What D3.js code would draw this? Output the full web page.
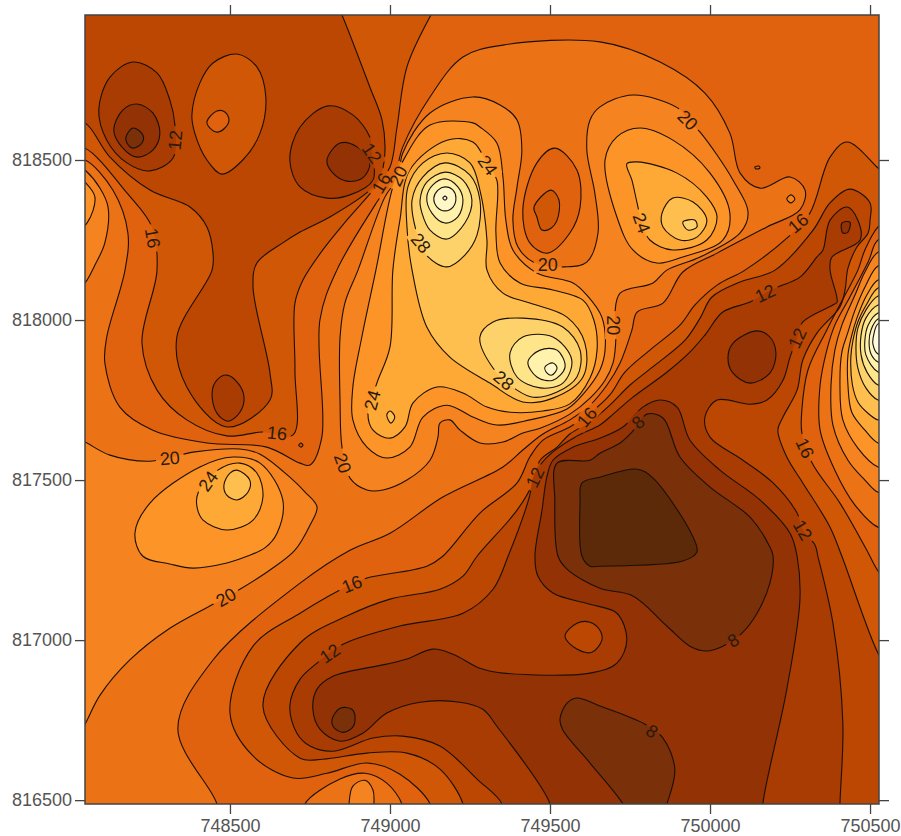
<!DOCTYPE html>
<html>
<head>
<meta charset="utf-8">
<title>Contour map</title>
<script src="https://cdnjs.cloudflare.com/ajax/libs/d3/7.8.5/d3.min.js"></script>
<style>
body { margin: 0; background: #fff; }
text { font-family: "Liberation Sans", Arial, sans-serif; }
</style>
</head>
<body>
<script>
// grid origin, all vertices below are metres east / north of it
var eastBase = 748000, northBase = 816000;
var eastExtent = [47, 2528], northExtent = [488, 2953];

var eastTicks = [748500, 749000, 749500, 750000, 750500];
var northTicks = [816500, 817000, 817500, 818000, 818500];

// band floor -> colour
var bandFloors = [4, 6, 8, 10, 12, 14, 16, 18, 20, 22, 24, 26, 28, 30, 32, 34, 36];
var bandColors = ["#5c2a08", "#7a3008", "#933204", "#a83c03", "#bb4702", "#cf5705", "#e0620e", "#ec7216",
  "#f5831f", "#fc9427", "#fea935", "#febf4e", "#fed26b", "#fee58a", "#fff2ac", "#fff7c8", "#fffbe0"];

// contour rings, high side
var high18Main = [[47,2500],[134,2406],[181,2272],[172,2156],[115,1947],[109,1866],[156,1728],[259,1656],[428,1616],[615,1603],[719,1553],[750,1547],[787,1634],[781,2000],[834,2156],[953,2359],[1015,2453],[1040,2541],[1125,2697],[1228,2822],[1353,2859],[1656,2869],[1844,2806],[1984,2709],[2062,2584],[2094,2459],[2156,2412],[2250,2447],[2297,2406],[2281,2344],[2178,2291],[2022,2209],[1915,2150],[1853,2053],[1772,2025],[1756,1969],[1719,1866],[1678,1797],[1625,1734],[1562,1688],[1478,1644],[1415,1594],[1353,1541],[1165,1447],[1000,1334],[875,1281],[719,1178],[447,938],[337,722],[459,488],[459,438],[0,438],[0,2500]];
var high18South = [[734,488],[844,566],[922,584],[990,553],[1037,488],[1037,438],[734,438]];
var high18Dot = [[2140,2478],[2153,2481],[2156,2475],[2144,2472]];
var high18East = [[2525,2250],[2494,2181],[2437,2072],[2390,1984],[2365,1906],[2344,1797],[2344,1656],[2390,1531],[2453,1422],[2525,1353],[2578,1353],[2578,2250]];
var high20West = [[47,1619],[125,1578],[250,1559],[391,1588],[531,1597],[594,1581],[687,1509],[734,1463],[772,1416],[750,1359],[703,1281],[625,1219],[531,1159],[447,1112],[312,1037],[187,938],[94,828],[47,737],[0,656],[0,1641]];
var high20NorthWest = [[47,2469],[94,2412],[119,2353],[109,2241],[78,2172],[47,2116],[0,2078],[0,2500]];
var high20South = [[872,488],[884,544],[922,562],[947,531],[950,488],[950,438],[872,438]];
var high20Spot = [[2240,2378],[2253,2391],[2265,2378],[2253,2366]];
var high20Center = [[900,2156],[859,2053],[844,1947],[844,1741],[850,1603],[875,1506],[928,1469],[978,1469],[1053,1500],[1125,1562],[1150,1634],[1156,1678],[1187,1688],[1219,1656],[1281,1616],[1353,1619],[1415,1647],[1469,1662],[1562,1706],[1625,1756],[1672,1812],[1697,1866],[1706,1947],[1703,2022],[1719,2084],[1822,2116],[1865,2156],[1969,2197],[2094,2272],[2119,2334],[2072,2437],[1969,2587],[1931,2625],[1900,2662],[1759,2703],[1656,2666],[1625,2625],[1615,2531],[1640,2397],[1650,2272],[1615,2181],[1547,2166],[1453,2178],[1400,2228],[1384,2312],[1397,2416],[1412,2531],[1397,2625],[1344,2672],[1259,2697],[1125,2647],[1040,2522],[1025,2447],[984,2384]];
var high20East = [[2525,2212],[2484,2150],[2453,2078],[2412,1984],[2390,1906],[2378,1797],[2384,1672],[2431,1562],[2484,1500],[2525,1462],[2578,1462],[2578,2212]];
var high22Center = [[956,2156],[912,1947],[884,1791],[884,1688],[928,1603],[990,1569],[1062,1603],[1103,1697],[1178,1734],[1259,1697],[1334,1672],[1437,1688],[1553,1722],[1609,1775],[1656,1844],[1672,1906],[1662,2009],[1615,2078],[1572,2116],[1459,2147],[1384,2219],[1362,2312],[1353,2447],[1334,2553],[1281,2603],[1259,2616],[1125,2609],[1047,2509],[1009,2416]];
var high22NorthEast = [[1672,2500],[1709,2572],[1781,2600],[1884,2562],[2000,2459],[2062,2334],[2040,2250],[1915,2197],[1834,2178],[1759,2219],[1709,2322]];
var high22NorthWest = [[47,2431],[78,2384],[53,2303],[0,2266],[0,2469]];
var high22SouthWest = [[203,1334],[250,1428],[406,1541],[509,1572],[594,1553],[665,1438],[647,1334],[609,1288],[553,1262],[490,1241],[384,1225],[312,1238],[228,1262]];
var high22East = [[2525,2169],[2487,2109],[2453,2031],[2431,1962],[2412,1900],[2406,1797],[2415,1688],[2462,1600],[2525,1541],[2578,1541],[2578,2169]];
var high24SouthWest = [[400,1459],[397,1416],[416,1375],[490,1344],[572,1375],[603,1447],[584,1522],[531,1553],[462,1531]];
var high24Center = [[1009,2156],[1000,1916],[959,1803],[931,1709],[947,1656],[1000,1631],[1047,1666],[1072,1741],[1147,1791],[1228,1772],[1303,1728],[1375,1712],[1478,1716],[1562,1738],[1625,1819],[1647,1906],[1637,2000],[1603,2062],[1509,2094],[1406,2116],[1344,2178],[1331,2272],[1334,2437],[1306,2484],[1259,2556],[1178,2562],[1062,2469],[1031,2312]];
var high24NorthEast = [[1740,2488],[1772,2494],[1897,2459],[1990,2384],[2022,2322],[1990,2250],[1884,2219],[1812,2250],[1787,2303],[1772,2366],[1756,2437]];
var high24East = [[2525,2125],[2490,2078],[2459,2006],[2443,1953],[2431,1891],[2431,1797],[2443,1712],[2484,1656],[2525,1616],[2578,1616],[2578,2125]];
var high26SouthWest = [[522,1531],[562,1500],[556,1462],[522,1438],[490,1453],[481,1484],[500,1522]];
var high26Center = [[1069,2156],[1115,1978],[1187,1884],[1312,1803],[1415,1744],[1509,1756],[1603,1822],[1609,1928],[1553,2009],[1437,2053],[1353,2084],[1303,2156],[1303,2250],[1281,2406],[1250,2491],[1178,2522],[1103,2491],[1056,2416],[1053,2291]];
var high26Spot = [[990,1703],[1000,1716],[1015,1697],[1003,1678]];
var high26NorthEast = [[1850,2334],[1884,2381],[1947,2369],[1990,2312],[1959,2259],[1906,2250],[1853,2291]];
var high26East = [[2525,2100],[2490,2050],[2462,1994],[2447,1938],[2440,1884],[2445,1797],[2462,1744],[2490,1712],[2525,1688],[2578,1688],[2578,2100]];
var high28NorthEast = [[1915,2306],[1953,2312],[1959,2291],[1931,2281]];
var high28Upper = [[1081,2281],[1069,2375],[1103,2447],[1172,2491],[1250,2453],[1281,2375],[1272,2266],[1234,2203],[1178,2166],[1119,2197],[1097,2241]];
var high28Lower = [[1322,1850],[1281,1947],[1322,1994],[1415,2006],[1540,1978],[1594,1906],[1584,1822],[1522,1775],[1447,1759],[1397,1781]];
var high28East = [[2525,2075],[2487,2031],[2462,1975],[2456,1912],[2462,1850],[2487,1788],[2525,1750],[2578,1750],[2578,2075]];
var high30Upper = [[1094,2375],[1115,2431],[1172,2462],[1228,2437],[1256,2375],[1234,2303],[1178,2253],[1125,2281],[1100,2334]];
var high30Lower = [[1375,1897],[1415,1947],[1509,1947],[1568,1875],[1540,1803],[1469,1788],[1397,1822]];
var high30East = [[2525,2047],[2487,2006],[2472,1953],[2472,1891],[2490,1838],[2525,1797],[2578,1797],[2578,2047]];
var high32Upper = [[1115,2384],[1134,2422],[1172,2441],[1212,2416],[1228,2375],[1212,2322],[1172,2303],[1131,2334]];
var high32Lower = [[1431,1869],[1469,1906],[1522,1906],[1547,1853],[1509,1812],[1459,1822]];
var high32East = [[2525,2022],[2494,1984],[2484,1938],[2487,1891],[2525,1838],[2578,1838],[2578,2022]];
var high34Upper = [[1137,2381],[1150,2406],[1172,2416],[1197,2406],[1206,2381],[1197,2353],[1172,2341],[1147,2353]];
var high34Lower = [[1484,1853],[1509,1866],[1522,1850],[1506,1828],[1491,1834]];
var high34East = [[2525,2003],[2503,1969],[2497,1931],[2503,1894],[2525,1869],[2578,1869],[2578,2003]];
var high36Upper = [[1165,2381],[1172,2387],[1178,2381],[1172,2375]];
var high36East = [[2525,1988],[2512,1956],[2509,1925],[2525,1894],[2578,1894],[2578,1988]];

// contour rings, low side
var low18Hole = [[1415,2344],[1459,2491],[1515,2537],[1584,2469],[1594,2353],[1562,2272],[1491,2209],[1437,2241]];
var low16Hole = [[1450,2353],[1503,2406],[1528,2375],[1522,2312],[1503,2287],[1475,2281],[1459,2322]];
var low16North = [[47,2537],[178,2397],[256,2291],[272,2156],[225,1928],[272,1781],[365,1688],[490,1638],[600,1650],[697,1641],[703,1844],[703,2053],[728,2125],[790,2219],[865,2312],[947,2406],[1000,2478],[1022,2603],[1053,2791],[1128,2953],[1156,3000],[0,3000],[0,2537]];
var low16Dot = [[715,1609],[722,1616],[728,1609],[722,1603]];
var low16South = [[1125,488],[1031,581],[928,616],[803,584],[697,569],[572,638],[500,772],[572,981],[719,1084],[881,1175],[928,1194],[1115,1231],[1165,1262],[1281,1397],[1397,1491],[1437,1572],[1478,1625],[1562,1666],[1625,1709],[1687,1766],[1734,1837],[1812,1906],[1906,1984],[1953,2047],[2022,2109],[2109,2156],[2240,2256],[2312,2334],[2375,2509],[2428,2556],[2525,2475],[2578,2422],[2578,2328],[2525,2291],[2484,2219],[2462,2156],[2422,2078],[2365,1969],[2306,1844],[2287,1719],[2287,1647],[2319,1553],[2406,1428],[2490,1281],[2525,1216],[2578,1156],[2578,438],[1125,438]];
var low14North = [[47,2616],[125,2509],[250,2406],[375,2353],[428,2291],[447,2209],[444,2156],[334,1947],[365,1791],[490,1666],[625,1750],[625,1834],[572,2103],[584,2178],[665,2241],[719,2275],[812,2322],[937,2406],[969,2447],[984,2522],[975,2625],[937,2728],[850,2953],[828,3000],[0,3000],[0,2616]];
var high14Blob = [[381,2641],[406,2741],[447,2803],[522,2831],[584,2791],[612,2697],[594,2584],[540,2500],[475,2456],[428,2500],[390,2584]];
var high16Blob = [[428,2619],[459,2653],[484,2650],[497,2625],[484,2600],[459,2587],[437,2600]];
var low12NorthWest = [[90,2656],[125,2759],[197,2806],[272,2772],[312,2688],[328,2609],[322,2506],[250,2466],[178,2491],[115,2562]];
var low10NorthWest = [[137,2594],[165,2656],[209,2675],[259,2647],[281,2584],[259,2531],[209,2509],[162,2541]];
var low8NorthWest = [[175,2572],[197,2600],[228,2578],[225,2553],[197,2537],[178,2553]];
var low12Mid = [[687,2500],[719,2603],[806,2669],[884,2641],[937,2572],[944,2525],[947,2437],[875,2391],[803,2381],[719,2416]];
var low10Mid = [[803,2500],[844,2553],[897,2541],[937,2491],[915,2444],[865,2434],[819,2462]];
var low12Tongue = [[444,1772],[459,1812],[490,1828],[525,1803],[544,1759],[531,1712],[494,1684],[459,1709]];
var low14South = [[1228,488],[1156,597],[1053,647],[928,647],[790,628],[719,631],[603,794],[719,991],[865,1075],[1000,1128],[1156,1159],[1228,1200],[1272,1262],[1397,1406],[1447,1491],[1469,1562],[1522,1603],[1562,1644],[1625,1681],[1687,1734],[1750,1797],[1828,1859],[1922,1937],[1969,2006],[2006,2072],[2094,2119],[2203,2156],[2322,2281],[2375,2366],[2437,2409],[2500,2366],[2500,2312],[2494,2272],[2459,2228],[2431,2162],[2422,2094],[2406,2041],[2334,1959],[2290,1875],[2272,1781],[2228,1697],[2212,1656],[2240,1572],[2290,1491],[2375,1353],[2412,1262],[2525,959],[2578,875],[2578,438],[1228,438]];
var low12South = [[1350,488],[1272,566],[1156,669],[1040,700],[947,694],[822,653],[750,669],[709,709],[687,794],[719,878],[772,928],[853,987],[1031,1044],[1228,1084],[1322,1159],[1369,1262],[1437,1453],[1447,1509],[1469,1547],[1509,1588],[1578,1634],[1656,1672],[1687,1697],[1759,1759],[1865,1837],[1937,1900],[1984,1953],[2040,2025],[2125,2056],[2172,2084],[2212,2103],[2281,2134],[2334,2197],[2353,2219],[2375,2312],[2428,2353],[2462,2312],[2469,2250],[2381,2197],[2375,2156],[2397,2056],[2384,2047],[2290,1994],[2272,1944],[2250,1884],[2228,1812],[2178,1750],[2125,1737],[2022,1750],[1984,1697],[2000,1634],[2103,1562],[2197,1491],[2272,1397],[2290,1344],[2328,1297],[2337,1262],[2384,1053],[2415,741],[2406,488],[2406,438],[1350,438]];
var low10Spot = [[2412,2303],[2437,2306],[2431,2275],[2415,2272]];
var low10Oval = [[2056,1881],[2072,1928],[2147,1966],[2187,1947],[2206,1897],[2187,1834],[2125,1803],[2072,1834]];
var low10South = [[1500,488],[1334,731],[1290,784],[1219,806],[1094,806],[990,772],[915,709],[844,684],[781,722],[759,784],[772,847],[822,887],[990,925],[1053,941],[1134,972],[1197,956],[1281,912],[1353,897],[1625,897],[1709,928],[1740,1000],[1709,1084],[1625,1112],[1509,1147],[1462,1200],[1453,1262],[1475,1406],[1490,1509],[1509,1562],[1572,1603],[1656,1631],[1728,1666],[1790,1728],[1844,1750],[1897,1728],[1937,1625],[2031,1531],[2156,1438],[2250,1334],[2272,1262],[2281,1128],[2240,847],[2165,488],[2165,438],[1500,438]];
var high12Knob = [[1547,1012],[1584,1053],[1625,1056],[1656,1031],[1662,1000],[1631,962],[1584,972]];
var low8South = [[1522,1553],[1625,1562],[1656,1584],[1719,1616],[1756,1650],[1803,1706],[1853,1694],[1906,1572],[2000,1478],[2125,1384],[2187,1291],[2197,1262],[2187,1178],[2147,1084],[2100,1022],[2040,981],[1990,966],[1937,981],[1865,1044],[1759,1138],[1656,1162],[1553,1222],[1525,1262],[1515,1438]];
var low8Bottom = [[1531,753],[1553,803],[1584,819],[1656,794],[1797,737],[1853,694],[1890,597],[1865,488],[1844,438],[1750,438],[1728,488],[1625,616],[1540,719]];
var low8West = [[819,753],[844,787],[881,784],[891,753],[881,725],[850,712],[822,731]];
var low6South = [[1600,1491],[1656,1509],[1772,1534],[1822,1506],[1947,1322],[1959,1275],[1915,1247],[1656,1231],[1625,1231],[1600,1262],[1594,1428]];

// paint order, outer rings first: [band floor, ring]
var contourRings = [
  [18, high18Main], [18, high18South], [18, high18East],
  [20, high20West], [20, high20NorthWest], [20, high20South], [20, high20Spot], [20, high20Center], [20, high20East],
  [16, low18Hole], [14, low16Hole],
  [22, high22Center], [22, high22NorthEast], [22, high22NorthWest], [22, high22SouthWest], [22, high22East],
  [24, high24SouthWest], [24, high24Center], [24, high24NorthEast], [24, high24East],
  [26, high26SouthWest], [26, high26Center], [26, high26Spot], [26, high26NorthEast], [26, high26East],
  [28, high28NorthEast], [28, high28Upper], [28, high28Lower], [28, high28East],
  [30, high30Upper], [30, high30Lower], [30, high30East],
  [32, high32Upper], [32, high32Lower], [32, high32East],
  [34, high34Upper], [34, high34Lower], [34, high34East],
  [36, high36Upper], [36, high36East],
  [14, low16North], [14, low16South], [12, low14North], [14, high14Blob], [16, high16Blob],
  [10, low12NorthWest], [8, low10NorthWest], [6, low8NorthWest],
  [10, low12Mid], [8, low10Mid], [10, low12Tongue],
  [12, low14South], [10, low12South], [8, low10Spot], [8, low10Oval], [8, low10South], [12, high12Knob],
  [6, low8South], [6, low8Bottom], [6, low8West], [4, low6South],
  [16, high18Dot], [14, low16Dot]
];

// contour labels: level, east, north, angle along the line
var contourLabels = [
  [12,328,2562,-85],[16,259,2256,80],[12,944,2522,55],[16,972,2428,-60],[20,1025,2450,-65],
  [24,1306,2484,55],[28,1097,2241,50],[20,1493,2172,0],[20,1931,2625,45],[24,1787,2303,70],
  [16,2275,2303,-40],[20,1697,1984,90],[12,2172,2084,-25],[12,2272,1944,-65],[8,1775,1681,-45],
  [16,1615,1697,-50],[28,1356,1812,40],[24,944,1750,-75],[20,853,1553,70],[16,647,1647,5],
  [20,312,1569,-5],[24,431,1497,-55],[20,487,1134,-30],[16,881,1175,-22],[12,812,959,-35],
  [12,1453,1509,-65],[16,2297,1600,65],[12,2290,1344,60],[8,2072,1000,-30],[8,1819,716,35]
];

var w = 901, h = 836;
var left = 85, right = 879, top_ = 15, bottom = 804;
var axisColor = "#444";

var x = d3.scaleLinear().domain(eastExtent.map(function(d) { return d + eastBase; })).range([left, right]);
var y = d3.scaleLinear().domain(northExtent.map(function(d) { return d + northBase; })).range([bottom, top_]);

var svg = d3.select("body").append("svg")
  .attr("width", w)
  .attr("height", h)
  .style("display", "block");

var defs = svg.append("defs");
defs.append("clipPath").attr("id", "plotClip")
  .append("rect").attr("x", left).attr("y", top_).attr("width", right - left).attr("height", bottom - top_);

function px(d) { return x(d + eastBase); }
function py(d) { return y(d + northBase); }

var ringPath = d3.line()
  .x(function(d) { return px(d[0]); })
  .y(function(d) { return py(d[1]); })
  .curve(d3.curveCatmullRomClosed.alpha(0.5));

function bandColor(floor) { return bandColors[bandFloors.indexOf(floor)]; }

// lines are broken under the labels
var mask = defs.append("mask").attr("id", "labelGaps").attr("maskUnits", "userSpaceOnUse")
  .attr("x", 0).attr("y", 0).attr("width", w).attr("height", h);
mask.append("rect").attr("width", w).attr("height", h).attr("fill", "white");
mask.selectAll("rect.gap").data(contourLabels).enter().append("rect")
  .attr("class", "gap")
  .attr("x", function(d) { return d[0] < 10 ? -8 : -14; })
  .attr("y", -8)
  .attr("width", function(d) { return d[0] < 10 ? 16 : 28; })
  .attr("height", 16)
  .attr("fill", "black")
  .attr("transform", function(d) { return "translate(" + px(d[1]) + "," + py(d[2]) + ") rotate(" + d[3] + ")"; });

var plot = svg.append("g").attr("clip-path", "url(#plotClip)");

plot.append("rect")
  .attr("x", left).attr("y", top_).attr("width", right - left).attr("height", bottom - top_)
  .attr("fill", bandColor(16));

plot.append("g").selectAll("path").data(contourRings).enter().append("path")
  .attr("d", function(d) { return ringPath(d[1]); })
  .attr("fill", function(d) { return bandColor(d[0]); });

plot.append("g").attr("mask", "url(#labelGaps)").selectAll("path").data(contourRings).enter().append("path")
  .attr("d", function(d) { return ringPath(d[1]); })
  .attr("fill", "none")
  .attr("stroke", "#1a1008")
  .attr("stroke-width", 1.1);

plot.append("g").selectAll("text").data(contourLabels).enter().append("text")
  .text(function(d) { return d[0]; })
  .attr("transform", function(d) { return "translate(" + px(d[1]) + "," + py(d[2]) + ") rotate(" + d[3] + ")"; })
  .attr("text-anchor", "middle")
  .attr("dy", "0.36em")
  .attr("font-size", 18)
  .attr("fill", "#2a1a0c");

// frame and axes
svg.append("rect")
  .attr("x", left).attr("y", top_).attr("width", right - left).attr("height", bottom - top_)
  .attr("fill", "none").attr("stroke", axisColor).attr("stroke-width", 1.5);

var axes = [
  [d3.axisBottom(x).tickValues(eastTicks).tickFormat(d3.format("d")), "translate(0," + bottom + ")", 5],
  [d3.axisTop(x).tickValues(eastTicks).tickFormat(""), "translate(0," + top_ + ")", 3],
  [d3.axisLeft(y).tickValues(northTicks).tickFormat(d3.format("d")), "translate(" + left + ",0)", 3],
  [d3.axisRight(y).tickValues(northTicks).tickFormat(""), "translate(" + right + ",0)", 3]
];
axes.forEach(function(a) {
  var g = svg.append("g").attr("transform", a[1])
    .call(a[0].tickSize(10).tickSizeOuter(0).tickPadding(a[2]));
  g.select(".domain").remove();
  g.selectAll("line").attr("stroke", axisColor).attr("stroke-width", 1.3);
  g.selectAll("text").attr("fill", "#555").attr("font-size", 18)
    .style("font-family", '"Liberation Sans", Arial, sans-serif');
});
</script>
</body>
</html>
